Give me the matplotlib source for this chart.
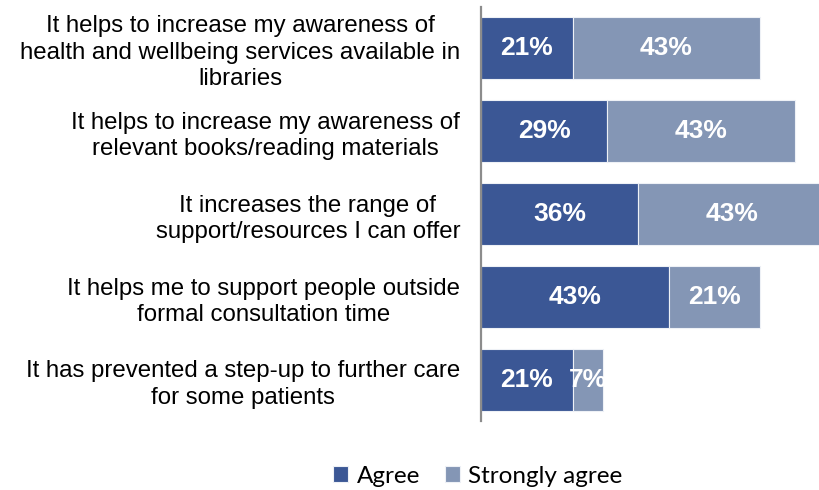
import matplotlib.pyplot as plt
import numpy as np

statements = [
    "It helps to increase my awareness of\nhealth and wellbeing services available in\nlibraries",
    "It helps to increase my awareness of\nrelevant books/reading materials",
    "It increases the range of\nsupport/resources I can offer",
    "It helps me to support people outside\nformal consultation time",
    "It has prevented a step-up to further care\nfor some patients",
]
agree = [21, 29, 36, 43, 21]
strongly_agree = [43, 43, 43, 21, 7]

dark_blue = '#3B5795'
light_blue = '#8496B5'

fig = plt.figure(figsize=(8.19, 4.90), dpi=100)
ax = fig.add_axes([0.5873, 0.1398, 0.4127, 0.8469])

y = np.arange(len(statements))
b1 = ax.barh(y, agree, height=0.75, color=dark_blue, edgecolor='#eef1f6',
             linewidth=0.8, label='Agree')
b2 = ax.barh(y, strongly_agree, left=agree, height=0.75, color=light_blue,
             edgecolor='#eef1f6', linewidth=0.8, label='Strongly agree')

# value labels, clipped to their own segment
for bars in (b1, b2):
    for rect in bars:
        w = rect.get_width()
        t = ax.text(rect.get_x() + w / 2, rect.get_y() + rect.get_height() / 2,
                    '%d%%' % w, ha='center', va='center', color='white',
                    fontsize=19, fontweight='bold', family='Liberation Sans')
        t.set_clip_path(rect)

ax.set_xlim(0, 77.5)
ax.set_ylim(len(statements) - 0.5, -0.5)
ax.set_xticks([])
ax.set_yticks(y)
ax.set_yticklabels(statements, fontsize=17.3, family='Liberation Sans',
                   ha='right', multialignment='center', linespacing=1.24)
ax.tick_params(axis='y', length=0, pad=15)
for s in ('top', 'right', 'bottom'):
    ax.spines[s].set_visible(False)
ax.spines['left'].set_color('#8c8c8c')
ax.spines['left'].set_linewidth(1.6)

fig.legend(handles=[b1, b2], loc='center', bbox_to_anchor=(0.5836, 0.028),
           ncol=2, frameon=False, prop={'family': 'Lato', 'size': 17.5},
           handlelength=0.62, handleheight=0.62, handletextpad=0.35,
           columnspacing=1.0)

fig.savefig('out.png', dpi=100)
